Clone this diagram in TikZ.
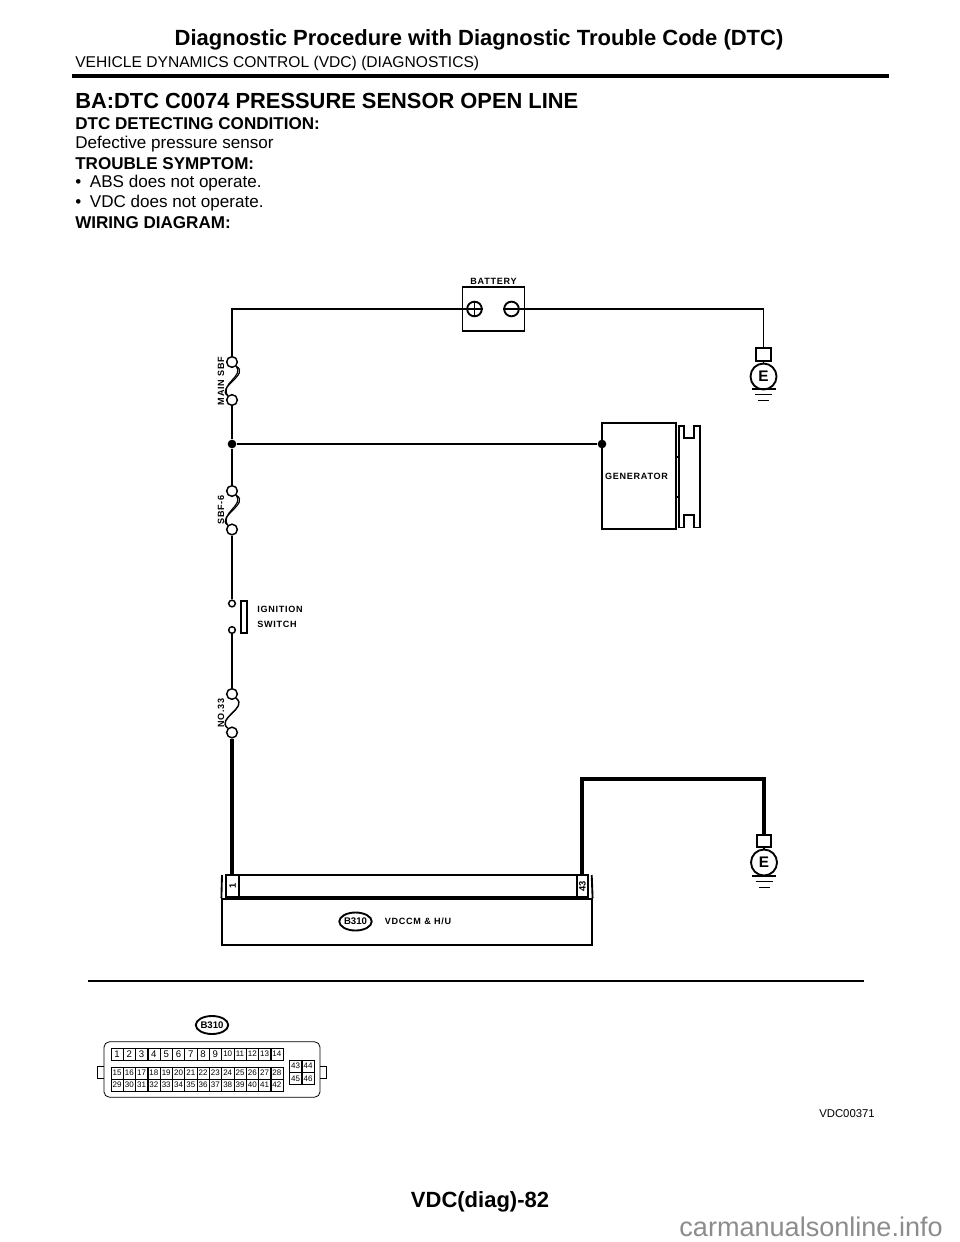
\documentclass[tikz,border=0pt]{standalone}
\usepackage{fontspec}
\setmainfont{Liberation Sans}
\newfontfamily\lblfont[LetterSpace=8]{Liberation Sans}
\usetikzlibrary{shapes.geometric}
\tikzset{
  txt/.style={anchor=west,inner sep=0pt,font=\fontsize{12.8}{15}\selectfont},
  txtb/.style={txt,font=\fontsize{12.8}{15}\selectfont\bfseries},
  lbl/.style={inner sep=0pt,font=\lblfont\fontsize{6.8}{8}\selectfont\bfseries},
  wire/.style={line width=1.4pt},
  fatwire/.style={line width=3pt},
  term/.style={circle,draw,fill=white,line width=1.1pt,inner sep=0pt,minimum size=8pt},
  smallterm/.style={term,minimum size=5pt},
  joint/.style={circle,fill=black,inner sep=0pt,minimum size=6.5pt},
  box/.style={draw,line width=1.4pt,inner sep=0pt},
  earth/.style={circle,draw,fill=white,line width=1.4pt,inner sep=0pt,minimum size=19.5pt,font=\fontsize{11.5}{13}\selectfont\bfseries},
  plug/.style={draw,fill=white,line width=1.4pt,inner sep=0pt,minimum width=11pt,minimum height=9.5pt},
  tag/.style={ellipse,draw,line width=1.4pt,inner sep=0pt,minimum width=23pt,minimum height=13.5pt,font=\fontsize{7.2}{8}\selectfont\bfseries},
  cell/.style={draw,line width=.4pt,inner sep=0pt,minimum width=9.2pt,minimum height=9.2pt,font=\fontsize{7.2}{8}\selectfont},
  tinycell/.style={cell,font=\fontsize{6}{7}\selectfont},
}
\begin{document}
\begin{tikzpicture}[x=.75pt,y=-.75pt]
    \useasboundingbox (0,0) rectangle (960,1242);
    % page text
    \node[inner sep=0pt,font=\fontsize{16.5}{18}\selectfont\bfseries] (title) at (479,39.5) {Diagnostic Procedure with Diagnostic Trouble Code (DTC)};
    \node[txt,font=\fontsize{11.7}{14}\selectfont] (subtitle) at (75,63.5) {VEHICLE DYNAMICS CONTROL (VDC) (DIAGNOSTICS)};
    \node[txtb,font=\fontsize{16.4}{18}\selectfont\bfseries] (head) at (75,100.5) {BA:DTC C0074 PRESSURE SENSOR OPEN LINE};
    \node[txtb] (cond) at (75,124) {DTC DETECTING CONDITION:};
    \node[txt] (defect) at (75,144) {Defective pressure sensor};
    \node[txtb] (sympt) at (75,164) {TROUBLE SYMPTOM:};
    \node[txt] (abs) at (75,183) {\textbullet\hspace{6.5pt}ABS does not operate.};
    \node[txt] (vdc) at (75,203) {\textbullet\hspace{6.5pt}VDC does not operate.};
    \node[txtb] (wiring) at (75,223) {WIRING DIAGRAM:};
    \node[inner sep=0pt,font=\fontsize{16.5}{18}\selectfont\bfseries] (foot) at (480,1201.5) {VDC(diag)-82};
    \coordinate (ruleA) at (72,76);
    \coordinate (ruleB) at (889,76);
    \draw[line width=3pt] (ruleA) -- (ruleB);
    % battery
    \node[box,minimum width=46.5pt,minimum height=33pt] (batt) at (493.5,309) {};
    \node[lbl] (battlbl) at (493.5,281) {BATTERY};
    \node[circle,draw,line width=1.4pt,inner sep=0pt,minimum size=11pt] (plus) at (474.5,309) {};
    \node[circle,draw,line width=1.4pt,inner sep=0pt,minimum size=11pt] (minus) at (511.5,309) {};
    \draw[wire] (plus.north) -- (plus.south);
    \draw[wire] (plus.west) -- (plus.east);
    \draw[wire] (minus.west) -- (minus.east);
    % earth at the top
    \node[plug] (plugA) at (763.5,354.5) {};
    \node[earth] (earthA) at (763.5,376.5) {E};
    \coordinate (cornerL) at (232,309);
    \coordinate (cornerR) at (763.5,309);
    \draw[wire] (plus.west) -- (cornerL) -- (232,357);
    \draw[wire] (minus.east) -- (cornerR) -- (plugA.north);
    \draw[wire] (plugA.south) -- (earthA.north);
    \foreach \py/\pw in {389/12, 394.5/8.5, 400.5/5.5}
        \draw[wire] (763.5-\pw,\py) -- (763.5+\pw,\py);
    % fuses
    \node[term] (mainA) at (232,362) {};
    \node[term] (mainB) at (232,400) {};
    \node[term] (sbfA) at (232,491) {};
    \node[term] (sbfB) at (232,529.5) {};
    \foreach \fa/\fb in {mainA/mainB,sbfA/sbfB} {
        \draw[line width=.9pt] (\fa.south east) .. controls +(14,8) and +(-12,-8) .. (\fb.north west);
        \draw[line width=.9pt] (\fa.south east) .. controls +(8,10) and +(-8,-12) .. (\fb.north west);
    }
    \node[lbl,rotate=90] (mainlbl) at (221,381) {MAIN SBF};
    \node[lbl,rotate=90] (sbflbl) at (221,510) {SBF-6};
    % generator
    \node[joint] (jointL) at (232,444) {};
    \node[box,minimum width=55.5pt,minimum height=79.5pt] (gen) at (639,476) {};
    \node[lbl] (genlbl) at (636.5,476) {GENERATOR};
    \node[joint] (jointR) at (602,444) {};
    \draw[wire] (jointL) -- (jointR);
    \draw[wire] (mainB) -- (jointL) -- (sbfA);
    \draw[wire] (679,426) -| (684,438) -| (694,426) -| (700,527.5) -| (694,515) -| (684,527.5) -| (679,426) -- cycle;
    \draw[wire] (676,457) -- (679,457);
    \draw[wire] (676,497) -- (679,497);
    % ignition switch
    \node[smallterm] (ignA) at (232,603.5) {};
    \node[smallterm] (ignB) at (232,630) {};
    \node[box,minimum width=4.5pt,minimum height=24pt] (ignbar) at (243.7,617) {};
    \node[lbl,anchor=west] (ignlbl) at (257,609) {IGNITION};
    \node[lbl,anchor=west] (swlbl) at (257,624) {SWITCH};
    \draw[wire] (sbfB) -- (ignA);
    % no. 33
    \node[term] (noA) at (232,694) {};
    \node[term] (noB) at (232,732.5) {};
    \draw[wire] (ignB) -- (noA);
    \draw[line width=1.1pt] (noA.south east) .. controls +(12,10) and +(-12,-10) .. (noB.north west);
    \node[lbl,rotate=90] (nolbl) at (221,713) {NO.33};
    % control module
    \node[box,minimum width=277pt,minimum height=34.3pt] (modbox) at (407,922) {};
    \draw[wire] (222,875) -- (modbox.north west);
    \draw[wire] (591.7,875) -- (modbox.north east);
    \node[box,minimum width=271.5pt,minimum height=16.3pt] (conn) at (407,886) {};
    \node[box,minimum width=10pt,minimum height=16.3pt,anchor=west,font=\fontsize{7}{8}\selectfont\bfseries] (pinA) at (conn.west) {\rotatebox{90}{1}};
    \node[box,minimum width=8.5pt,minimum height=16.3pt,anchor=east,font=\fontsize{7}{8}\selectfont\bfseries] (pinB) at (conn.east) {\rotatebox{90}{43}};
    \node[tag] (tagmod) at (355.5,921.5) {B310};
    \node[lbl] (modlbl) at (418,921.5) {VDCCM \& H/U};
    \draw[fatwire] (noB) -- (noB |- pinA.north);
    % earth at the bottom
    \node[plug] (plugB) at (764,841) {};
    \node[earth] (earthB) at (764,862.5) {E};
    \draw[fatwire] (581.7,875) |- (764,779) -- (plugB.north);
    \draw[wire] (plugB.south) -- (earthB.north);
    \foreach \py/\pw in {876/12, 881.5/8.5, 887.5/5.5}
        \draw[wire] (764-\pw,\py) -- (764+\pw,\py);
    % rule
    \coordinate (ruleC) at (88,981);
    \coordinate (ruleD) at (864,981);
    \draw[line width=1.9pt] (ruleC) -- (ruleD);
    % plug face
    \node[tag] (tagplug) at (212,1025) {B310};
    \node[draw,line width=.6pt,rounded corners=4pt,minimum width=162pt,minimum height=41.5pt,inner sep=0pt] (body) at (212,1069.5) {};
    \draw[line width=.6pt] (104,1066) -- (97,1066) -- (97,1078) -- (104,1078);
    \draw[line width=.6pt] (320,1066) -- (326,1066) -- (326,1078) -- (320,1078);
    \foreach \n in {1,...,9}
        \node[cell] (p\n) at (117+12.3*\n-12.3,1054) {\n};
    \foreach \n in {10,...,14}
        \node[tinycell] (p\n) at (117+12.3*\n-12.3,1054) {\n};
    \foreach \n in {15,...,28}
        \node[tinycell] (p\n) at (117+12.3*\n-184.5,1073) {\n};
    \foreach \n in {29,...,42}
        \node[tinycell] (p\n) at (117+12.3*\n-356.7,1085) {\n};
    \foreach \n/\px/\py in {43/295.5/1066,44/308/1066,45/295.5/1078.5,46/308/1078.5}
        \node[tinycell] (p\n) at (\px,\py) {\n};
    \node[anchor=east,inner sep=0pt,font=\fontsize{8.5}{10}\selectfont] (code) at (875,1113.5) {VDC00371};
    \node[anchor=east,inner sep=0pt,text=black!45,font=\fontsize{20.3}{22}\selectfont] (site) at (943,1227) {carmanualsonline.info};
\end{tikzpicture}
\end{document}
